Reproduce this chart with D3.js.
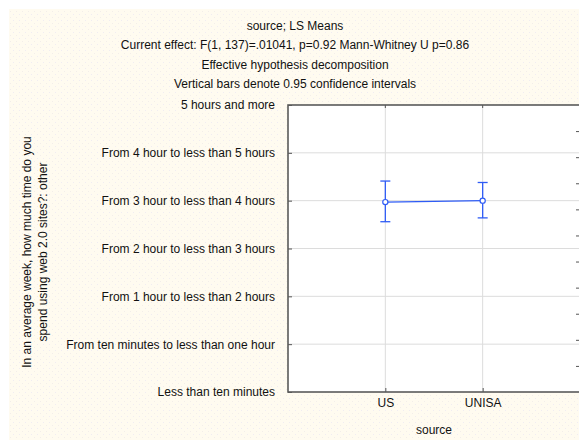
<!DOCTYPE html>
<html><head><meta charset="utf-8">
<script src="https://cdn.jsdelivr.net/npm/d3@7"></script>
<style>
html,body{margin:0;padding:0;background:#fff;}
svg{display:block;font-family:"Liberation Sans",Arial,sans-serif;}
</style></head>
<body>
<svg id="chart" width="579" height="440"></svg>
<script>
const titleLines = [
  "source; LS Means",
  "Current effect: F(1, 137)=.01041, p=0.92 Mann-Whitney U p=0.86",
  "Effective hypothesis decomposition",
  "Vertical bars denote 0.95 confidence intervals"
];
const yCategories = [
  "Less than ten minutes",
  "From ten minutes to less than one hour",
  "From 1 hour to less than 2 hours",
  "From 2 hour to less than 3 hours",
  "From 3 hour to less than 4 hours",
  "From 4 hour to less than 5 hours",
  "5 hours and more"
];
const groups = ["US", "UNISA"];
const means = [3.97, 4.00];
const lower = [3.56, 3.64];
const upper = [4.41, 4.38];
const yTitleLines = ["In an average week, how much time do you", "spend using web 2.0 sites?: other"];
const xTitle = "source";

const svg = d3.select("#chart");
const W = 579, H = 440;
const defs = svg.append("defs");
const pat = defs.append("pattern").attr("id","dots").attr("width",6).attr("height",6).attr("patternUnits","userSpaceOnUse");
pat.append("rect").attr("width",6).attr("height",6).attr("fill","#fffbf0");
pat.append("rect").attr("x",1).attr("y",2).attr("width",1).attr("height",1).attr("fill","#f0ecf2");
pat.append("rect").attr("x",4).attr("y",5).attr("width",1).attr("height",1).attr("fill","#f3eeea");
svg.append("rect").attr("x",9).attr("y",9).attr("width",W-9).attr("height",H-9).attr("fill","url(#dots)");

const pLeft = 288, pRight = 580, pTop = 105, pBottom = 392;
const x = d3.scalePoint().domain(["_a", ...groups, "_b"]).range([pLeft, pRight]);
const y = d3.scaleLinear().domain([0, yCategories.length - 1]).range([pBottom, pTop]);
const y2 = d3.scaleLinear().domain([0, 11]).range([pBottom, pTop]);

// plot background
svg.append("rect").attr("x",pLeft).attr("y",pTop).attr("width",pRight-pLeft).attr("height",pBottom-pTop).attr("fill","#fff");

// gridlines
svg.append("g").selectAll("line").data(d3.range(1, yCategories.length - 1)).join("line")
  .attr("x1",pLeft).attr("x2",pRight).attr("y1",d=>y(d)).attr("y2",d=>y(d))
  .attr("stroke","#dcdcdc").attr("stroke-width",1);
svg.append("g").selectAll("line").data(groups).join("line")
  .attr("x1",d=>x(d)).attr("x2",d=>x(d)).attr("y1",pTop).attr("y2",pBottom)
  .attr("stroke","#dcdcdc").attr("stroke-width",1);

// left axis (ticks pointing inward)
const yAxis = d3.axisLeft(y).tickValues(d3.range(yCategories.length)).tickFormat(i=>yCategories[i]).tickSize(-4).tickPadding(13);
const gy = svg.append("g").attr("transform",`translate(${pLeft},0)`).call(yAxis);
gy.select(".domain").remove();
gy.selectAll(".tick line").attr("stroke","#555");
gy.selectAll(".tick text").attr("font-size",12).attr("fill","#111").attr("font-family","Liberation Sans, Arial, sans-serif");

// right axis (unlabeled inner ticks)
const yAxis2 = d3.axisLeft(y2).tickValues(d3.range(1, 11)).tickFormat("").tickSize(3);
const gy2 = svg.append("g").attr("transform",`translate(${pRight-1},0)`).call(yAxis2);
gy2.select(".domain").remove();
gy2.selectAll(".tick line").attr("stroke","#555");

// bottom axis
const xAxis = d3.axisBottom(x).tickValues(groups).tickSize(4).tickPadding(9);
const gx = svg.append("g").attr("transform",`translate(0,${pBottom})`).call(xAxis);
gx.select(".domain").remove();
gx.selectAll(".tick line").attr("stroke","#555").attr("transform","translate(0,-4)");
gx.selectAll(".tick text").attr("font-size",12).attr("fill","#111").attr("font-family","Liberation Sans, Arial, sans-serif").attr("dy","0.2em");
// top ticks
svg.append("g").selectAll("line").data(groups).join("line")
  .attr("x1",d=>x(d)).attr("x2",d=>x(d)).attr("y1",pTop).attr("y2",pTop+3).attr("stroke","#555");

// frame
svg.append("rect").attr("x",pLeft).attr("y",pTop).attr("width",pRight-pLeft).attr("height",pBottom-pTop)
  .attr("fill","none").attr("stroke","#5a5a5a").attr("stroke-width",1.6);

// data
const blue = "#2f5cf5";
const data = groups.map((g,i)=>({g, m:means[i], lo:lower[i], hi:upper[i]}));
svg.append("path").datum(data).attr("fill","none").attr("stroke",blue).attr("stroke-width",1.3)
  .attr("d", d3.line().x(d=>x(d.g)).y(d=>y(d.m)));
const eb = svg.append("g").selectAll("g").data(data).join("g");
eb.append("line").attr("x1",d=>x(d.g)).attr("x2",d=>x(d.g)).attr("y1",d=>y(d.lo)).attr("y2",d=>y(d.hi)).attr("stroke",blue).attr("stroke-width",1.3);
eb.append("line").attr("x1",d=>x(d.g)-5).attr("x2",d=>x(d.g)+5).attr("y1",d=>y(d.lo)).attr("y2",d=>y(d.lo)).attr("stroke",blue).attr("stroke-width",1.3);
eb.append("line").attr("x1",d=>x(d.g)-5).attr("x2",d=>x(d.g)+5).attr("y1",d=>y(d.hi)).attr("y2",d=>y(d.hi)).attr("stroke",blue).attr("stroke-width",1.3);
eb.append("circle").attr("cx",d=>x(d.g)).attr("cy",d=>y(d.m)).attr("r",2.6).attr("fill","#fff").attr("stroke",blue).attr("stroke-width",1.2);

// titles
svg.append("g").selectAll("text").data(titleLines).join("text")
  .attr("x",295).attr("y",(d,i)=>30+i*19.3).attr("text-anchor","middle")
  .attr("font-size",12).attr("fill","#111").text(d=>d);

// x title
svg.append("text").attr("x",434).attr("y",434).attr("text-anchor","middle").attr("font-size",12).attr("fill","#111").text(xTitle);

// y title
svg.append("g").selectAll("text").data(yTitleLines).join("text")
  .attr("transform",(d,i)=>`translate(${31+i*16},252) rotate(-90)`)
  .attr("text-anchor","middle").attr("font-size",12).attr("fill","#111").text(d=>d);
</script>
</body></html>
